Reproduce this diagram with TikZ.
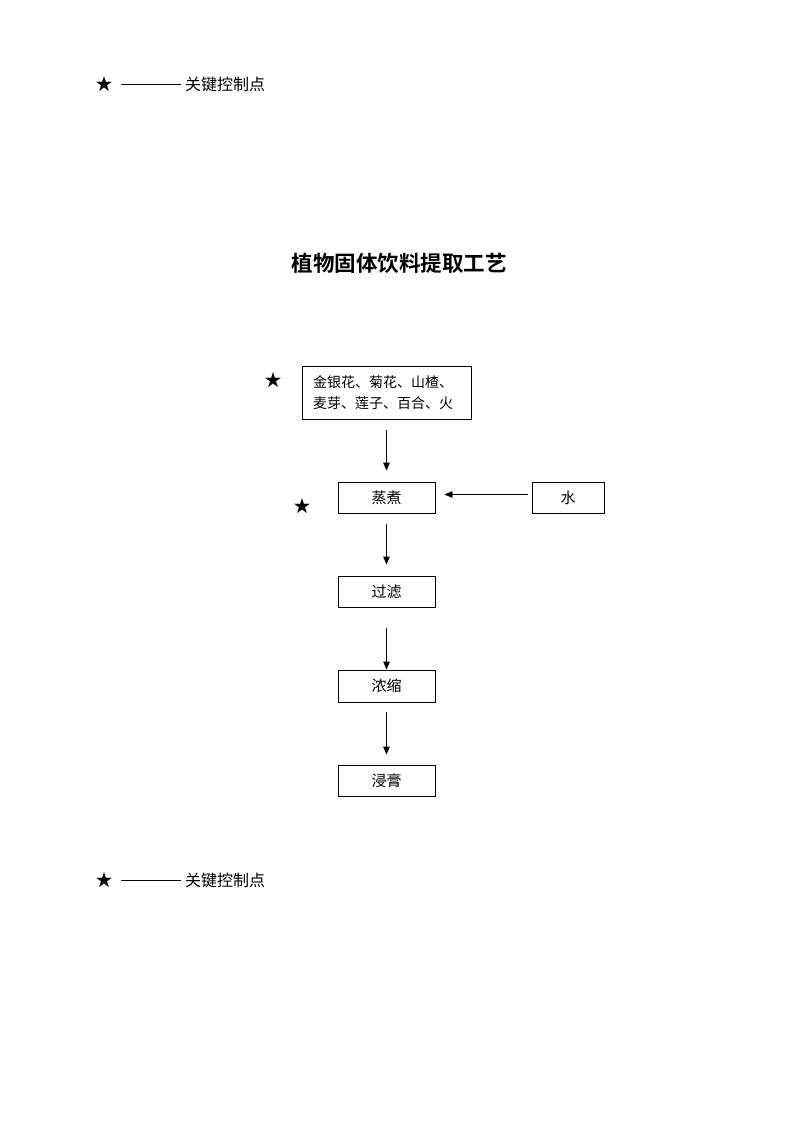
\documentclass[tikz,border=0pt]{standalone}
\usepackage{fontspec}
\newfontfamily\cjk{Noto Sans CJK SC}
\newfontfamily\cjkbold{Noto Sans CJK SC Bold}
\usetikzlibrary{arrows.meta,positioning}

\begin{document}
\begin{tikzpicture}[x=1pt,y=-1pt,>={Triangle[length=8pt,width=6.5pt]},
  font=\cjk\fontsize{15pt}{21pt}\selectfont,
  procbox/.style={draw,line width=0.8pt,inner sep=0pt,minimum height=31pt},
  flow/.style={->,line width=0.8pt},
  starmark/.style={inner sep=0pt,font=\cjk\fontsize{17pt}{17pt}\selectfont}]
\useasboundingbox (0,0) rectangle (800,1132);
% key mark legend (top)
\node[starmark] (st1) at (104,84) {★};
\coordinate (l1a) at (121,84); \coordinate (l1b) at (181,84);
\draw[line width=0.8pt] (l1a) -- (l1b);
\node[anchor=west,inner sep=0pt,font=\cjk\fontsize{16pt}{16pt}\selectfont] (key1) at (185,84) {关键控制点};
% title
\node[font=\cjkbold\fontsize{21.5pt}{21.5pt}\selectfont] (title) at (399,263) {植物固体饮料提取工艺};
% process
\node[procbox,minimum width=169pt,minimum height=53pt,text width=147pt,align=left,font=\cjk\fontsize{14pt}{21pt}\selectfont] (raw) at (386.5,392.5) {金银花、菊花、山楂、\\麦芽、莲子、百合、火};
\node[procbox,minimum width=97pt] (boil) at (386.5,497.5) {蒸煮};
\node[procbox,minimum width=72pt] (water) at (568,497.5) {水};
\node[procbox,minimum width=97pt] (filt) at (386.5,591.5) {过滤};
\node[procbox,minimum width=97pt,minimum height=32pt] (conc) at (386.5,686) {浓缩};
\node[procbox,minimum width=97pt] (extr) at (386.5,780.5) {浸膏};
\node[starmark] (st2) at (273,380) {★};
\node[starmark] (st3) at (302,506) {★};
\draw[flow,shorten <=11pt,shorten >=11pt] (raw) -- (boil);
\draw[flow,shorten <=4pt,shorten >=9pt] ([yshift=3pt]water.west) -- ([yshift=3pt]boil.east);
\draw[flow,shorten <=11pt,shorten >=11pt] (boil) -- (filt);
\draw[flow,shorten <=21pt,shorten >=0pt] (filt) -- (conc);
\draw[flow,shorten <=10pt,shorten >=10pt] (conc) -- (extr);
% key mark legend (bottom)
\node[starmark] (st4) at (104,880) {★};
\coordinate (l2a) at (121,880); \coordinate (l2b) at (181,880);
\draw[line width=0.8pt] (l2a) -- (l2b);
\node[anchor=west,inner sep=0pt,font=\cjk\fontsize{16pt}{16pt}\selectfont] (key2) at (185,880) {关键控制点};
\end{tikzpicture}
\end{document}
